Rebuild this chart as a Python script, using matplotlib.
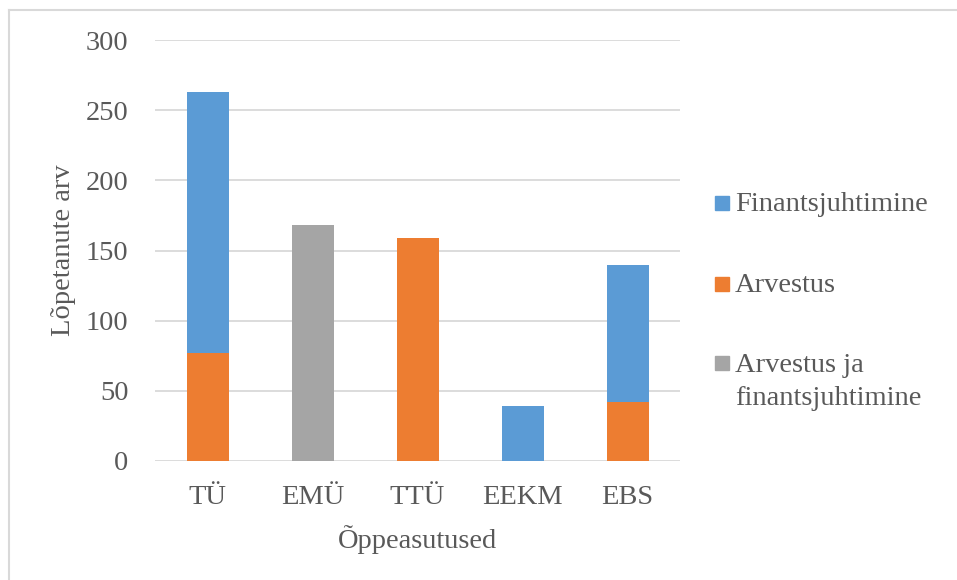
import matplotlib.pyplot as plt
from matplotlib.lines import Line2D
from matplotlib.patches import Rectangle

# andmed
kategooriad = ["TÜ", "EMÜ", "TTÜ", "EEKM", "EBS"]
arvestus = [77, 0, 159, 0, 42]
finants = [186, 0, 0, 39, 98]
arvestus_ja_fin = [0, 168, 0, 0, 0]

sinine = "#5B9BD5"
oranz = "#ED7D31"
hall = "#A5A5A5"
tekst = "#595959"

W, H = 957, 580

plt.rcParams['font.family'] = ['Liberation Serif', 'DejaVu Serif']

fig = plt.figure(figsize=(W / 100, H / 100), dpi=100)
ax = fig.add_axes([155 / W, 1 - 461 / H, 525 / W, 421 / H])

x = range(len(kategooriad))
laius = 0.4
ax.bar(x, arvestus, laius, color=oranz, zorder=3)
ax.bar(x, finants, laius, bottom=arvestus, color=sinine, zorder=3)
ax.bar(x, arvestus_ja_fin, laius, color=hall, zorder=3)

ax.set_xlim(-0.5, len(kategooriad) - 0.5)
ax.set_ylim(0, 300)
ax.set_yticks(range(0, 301, 50))
ax.set_xticks(list(x))
ax.set_xticklabels(kategooriad)
ax.grid(axis='y', color='#D9D9D9', linewidth=1.3, zorder=0)
for s in ax.spines.values():
    s.set_visible(False)
ax.tick_params(length=0, labelsize=20.5, labelcolor=tekst)
ax.tick_params(axis='y', pad=19)
ax.tick_params(axis='x', pad=17)

ax.set_ylabel("Lõpetanute arv", fontsize=20.5, color=tekst, labelpad=7)
ax.set_xlabel("Õppeasutused", fontsize=20.5, color=tekst, labelpad=11)

# legend käsitsi: värv, read, kasti keskkoht, esimese rea baasjoon (px)
legend = [(sinine, ["Finantsjuhtimine"], 203, 211),
          (oranz, ["Arvestus"], 284, 292),
          (hall, ["Arvestus ja", "finantsjuhtimine"], 363, 372)]
for varv, read, yk, yb in legend:
    fig.add_artist(Rectangle((715 / W, 1 - (yk + 7) / H), 14 / W, 14 / H,
                             color=varv, transform=fig.transFigure))
    for i, rida in enumerate(read):
        fig.text(735 / W, 1 - (yb + 33 * i) / H, rida, fontsize=20.5, color=tekst,
                 va='baseline', ha='left')

# välimine raam
fig.add_artist(Line2D([9 / W, 9 / W], [0, 1 - 10 / H], color='#D9D9D9', lw=1.5,
                      transform=fig.transFigure))
fig.add_artist(Line2D([9 / W, 1], [1 - 10 / H, 1 - 10 / H], color='#D9D9D9', lw=1.5,
                      transform=fig.transFigure))

fig.savefig("out.png", dpi=100, facecolor='white')
